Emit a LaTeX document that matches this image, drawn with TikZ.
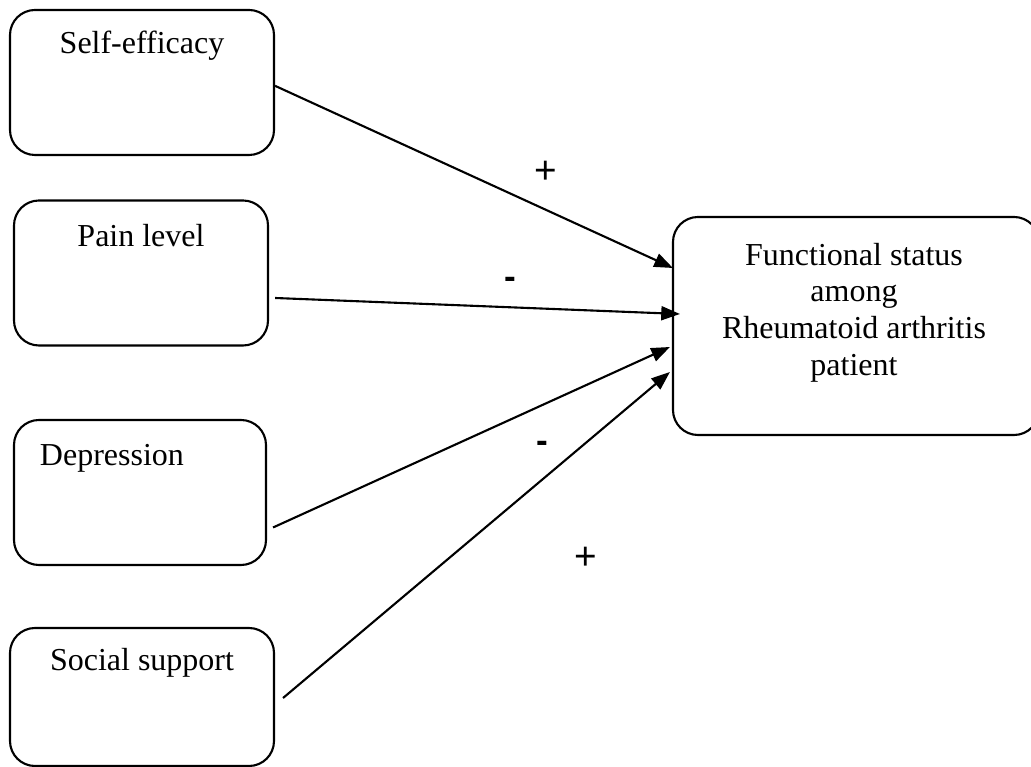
\documentclass[tikz,border=0pt]{standalone}
\usepackage{fontspec}
\setmainfont{Liberation Serif}
\setsansfont{Liberation Sans}
\usetikzlibrary{arrows.meta,positioning}

\begin{document}
\begin{tikzpicture}[x=0.03cm,y=0.03cm,line width=1.8pt,
  >={Triangle[length=0.56cm,width=0.42cm]},
  factor box/.style={draw,rounded corners=0.75cm,inner sep=0pt,minimum height=4.35cm},
  box text/.style={inner sep=0pt,font=\fontsize{27.3pt}{31.3pt}\selectfont},
  sign/.style={inner sep=0pt,font=\fontsize{33pt}{36pt}\selectfont\sffamily}]

  \useasboundingbox (0,0) rectangle (1031,767);

  \node[factor box, minimum width=7.92cm] (se) at (142,684.5) {};
  \node[factor box, minimum width=7.62cm] (pl) at (141,494) {};
  \node[factor box, minimum width=7.56cm] (dp) at (140,274.5) {};
  \node[factor box, minimum width=7.92cm, minimum height=4.14cm] (ss) at (142,70) {};
  \node[factor box, minimum width=10.98cm, minimum height=6.54cm] (fs) at (856,441) {};

  \node[box text, anchor=base] (se text) at ([yshift=-1.35cm]se.north) {Self-efficacy};
  \node[box text, anchor=base] (pl text) at ([yshift=-1.41cm]pl.north) {Pain level};
  \node[box text, anchor=base west] (dp text) at ([xshift=0.78cm,yshift=-1.41cm]dp.north west) {Depression};
  \node[box text, anchor=base] (ss text) at ([yshift=-1.32cm]ss.north) {Social support};
  \node[box text, anchor=north, align=center] (fs text) at ([xshift=-0.06cm,yshift=-0.78cm]fs.north)
    {Functional status\\among\\Rheumatoid arthritis\\patient};

  % signs on the paths
  \node[sign] (s1) at (546,595) {+};
  \node[sign, font=\fontsize{30pt}{34pt}\selectfont\sffamily\bfseries] (s2) at (510,484) {-};
  \node[sign, font=\fontsize{30pt}{34pt}\selectfont\sffamily\bfseries] (s3) at (542,320) {-};
  \node[sign] (s4) at (586,209) {+};

  \path[->]
    ([yshift=-0.1cm]se.east) edge ([xshift=0.03cm,yshift=1.74cm]fs.west)
    ([xshift=0.18cm,yshift=-0.75cm]pl.east) edge ([xshift=0.24cm,yshift=0.36cm]fs.west)
    ([xshift=0.18cm,yshift=-1.05cm]dp.east) edge ([xshift=-0.06cm,yshift=-0.63cm]fs.west)
    ([xshift=0.24cm,yshift=-0.03cm]ss.east) edge ([xshift=-0.06cm,yshift=-1.38cm]fs.west);
\end{tikzpicture}
\end{document}
